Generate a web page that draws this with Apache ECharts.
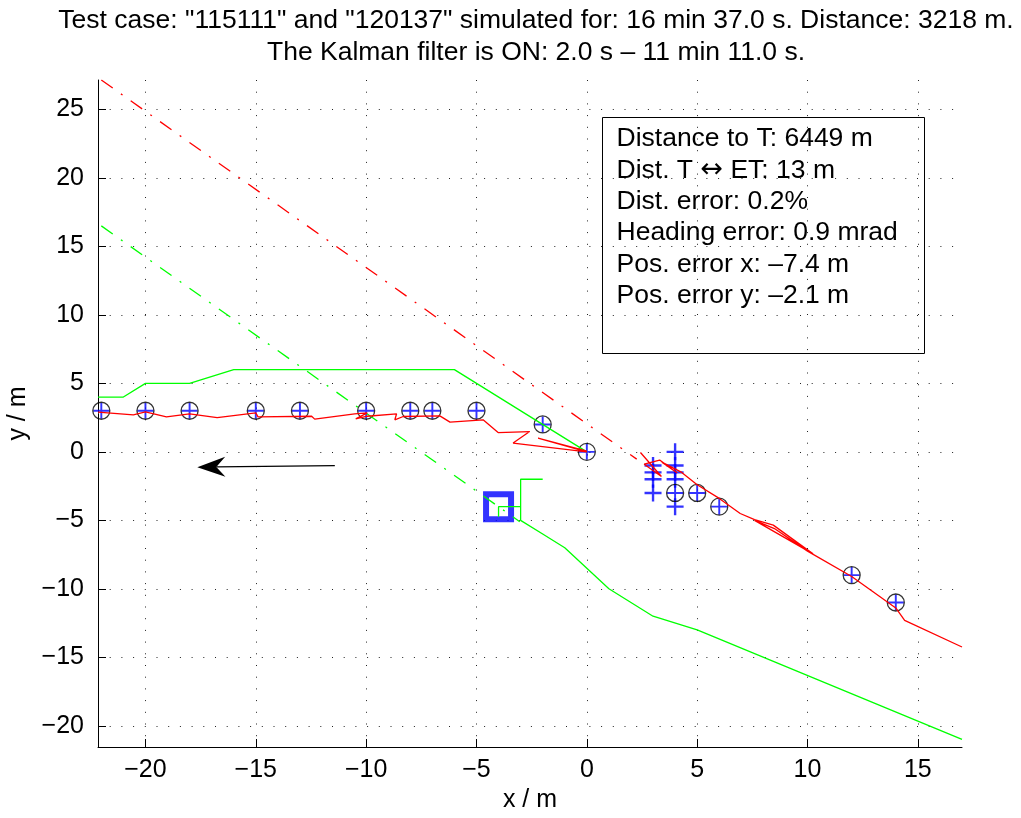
<!DOCTYPE html>
<html>
<head>
<meta charset="utf-8">
<title>Kalman track</title>
<script src="https://cdn.jsdelivr.net/npm/echarts@6/dist/echarts.min.js"></script>
<style>
html, body { margin: 0; padding: 0; background: #fff; }
#main { width: 1021px; height: 818px; }
</style>
</head>
<body>
<div id="main"></div>
<script>
// tick labels
var x_ticks = [-20, -15, -10, -5, 0, 5, 10, 15];
var y_ticks = [-20, -15, -10, -5, 0, 5, 10, 15, 20, 25];

// landmarks (circle + plus)
var landmarks = [[-22, 3], [-20, 3], [-18, 3], [-15, 3], [-13, 3], [-10, 3], [-8, 3], [-7, 3], [-5, 3],
	[-2, 2], [0, 0], [4, -3], [5, -3], [6, -4], [12, -9], [14, -11]];
// measured points (blue plus only)
var measured = [[3, -1], [3, -1.5], [3, -2], [3, -3], [4, 0], [4, -1], [4, -1.5], [4, -2], [4, -4]];

// true track (green)
var true_track_a = [[-22.15, 4], [-21, 4], [-20, 5], [-18, 5], [-16, 6], [-6, 6], [0, 0]];
var true_track_b = [[-2, -2], [-3, -2], [-3, -5], [-2, -6], [-1, -7], [1, -10], [3, -12], [5, -13], [17, -21]];
var true_track_c = [[-4, -4.73], [-4, -4], [-3, -4]];
var true_heading = [[-22, 16.5], [-3.04, -5.1]];

// estimated track (red)
var est_track_a = [[-22.15, 2.9], [-20.55, 2.7], [-20, 2.92], [-19.05, 2.56], [-18, 2.78], [-16.75, 2.5],
	[-15, 2.85], [-14.9, 2.55], [-12.47, 2.6], [-12.33, 2.39], [-10.52, 2.78], [-9.95, 2.85], [-10.47, 2.41],
	[-9.95, 2.6], [-8.62, 2.78], [-8.7, 2.34], [-8.32, 2.58], [-6.66, 2.63], [-6.2, 2.17], [-4.7, 2.34],
	[-4.02, 1.41], [-2.59, 1.48], [-3.34, 0.64], [0, 0], [-2.21, 1.0], [0, 0.05]];
var est_track_b = [[2.43, -0.05], [3.38, -1.8], [2.6, -0.9], [3.3, -0.6], [4.1, -1.55], [3.4, -0.75],
	[4.3, -1.5], [5, -2.4], [6, -3.4], [6.95, -4.5], [7.6, -4.95], [8.45, -5.35], [10.25, -7.45],
	[7.6, -5.0], [8.5, -5.6], [10, -7.25], [12, -9.1], [14, -11.4], [14.4, -12.3], [17, -14.25]];
var est_heading = [[-22, 27.15], [2.26, -0.53]];

// start position and direction arrow
var start_pos = [[-4, -4]];
var arrow_seg = [[-11.42, -1.0, -17.65, -1.12]];

var title_lines = [
	'Test case: "115111" and "120137" simulated for: 16 min 37.0 s. Distance: 3218 m.',
	'The Kalman filter is ON: 2.0 s \u2013 11 min 11.0 s.'
];
var info_lines = [
	'Distance to T: 6449 m',
	'Dist. T {ar|\u2194} ET: 13 m',
	'Dist. error: 0.2%',
	'Heading error: 0.9 mrad',
	'Pos. error x: \u20137.4 m',
	'Pos. error y: \u20132.1 m'
];

var FONT = "'Liberation Sans', Arial, Helvetica, sans-serif";
var PLUS = 'path://M44,0 L56,0 L56,44 L100,44 L100,56 L56,56 L56,100 L44,100 L44,56 L0,56 L0,44 L44,44 Z';
var PLUS_BOLD = 'path://M43,0 L57,0 L57,43 L100,43 L100,57 L57,57 L57,100 L43,100 L43,57 L0,57 L0,43 L43,43 Z';

function minus_fmt(v) {
	return String(v).replace('-', '\u2212');
}

function track(data, color, type) {
	return {
		type: 'line',
		data: data,
		symbol: 'none',
		silent: true,
		animation: false,
		lineStyle: { color: color, width: 1.3, type: type || 'solid' }
	};
}

var chart = echarts.init(document.getElementById('main'));
var option = {
	animation: false,
	backgroundColor: '#fff',
	title: {
		text: title_lines.join('\n'),
		left: 531,
		top: 0,
		textAlign: 'center',
		textStyle: { fontFamily: FONT, fontSize: 26.5, fontWeight: 'normal', color: '#000', lineHeight: 32 }
	},
	grid: { left: 98, right: 59, top: 80, bottom: 71, outerBoundsMode: 'none' },
	xAxis: {
		type: 'value',
		min: -22.15,
		max: 17,
		name: 'x / m',
		nameLocation: 'middle',
		nameGap: 41,
		nameTextStyle: { fontFamily: FONT, fontSize: 25, color: '#000' },
		axisLine: { onZero: false, lineStyle: { color: '#000', width: 1 } },
		axisTick: { inside: true, length: 8, customValues: x_ticks, lineStyle: { color: '#000' } },
		axisLabel: { customValues: x_ticks, margin: 11, fontFamily: FONT, fontSize: 25, color: '#000', formatter: minus_fmt },
		splitLine: { show: true, lineStyle: { color: '#222', width: 1, type: [1, 10.7] } }
	},
	yAxis: {
		type: 'value',
		min: -21.55,
		max: 27.15,
		name: 'y / m',
		nameLocation: 'middle',
		nameGap: 61,
		nameRotate: 90,
		nameTextStyle: { fontFamily: FONT, fontSize: 25, color: '#000' },
		axisLine: { onZero: false, lineStyle: { color: '#000', width: 1 } },
		axisTick: { inside: true, length: 8, customValues: y_ticks, lineStyle: { color: '#000' } },
		axisLabel: { customValues: y_ticks, margin: 14, fontFamily: FONT, fontSize: 25, color: '#000', formatter: minus_fmt },
		splitLine: { show: true, lineStyle: { color: '#222', width: 1, type: [1, 10.7] } }
	},
	graphic: [{
		type: 'group',
		left: 602,
		top: 117,
		children: [{
			type: 'rect',
			shape: { x: 0, y: 0, width: 322, height: 236 },
			style: { fill: '#fff', stroke: '#000', lineWidth: 1 }
		}, {
			type: 'text',
			left: 14,
			top: 6,
			style: {
				text: info_lines.join('\n'),
				font: '26.5px ' + FONT,
				fill: '#000',
				lineHeight: 31.3,
				rich: {
					ar: { fontFamily: "'DejaVu Sans'", fontSize: 27, lineHeight: 31.3, fill: '#000' }
				}
			}
		}]
	}],
	series: [
		track(est_heading, '#ff0000', [14, 10, 2, 10]),
		track(true_heading, '#00ff00', [14, 10, 2, 10]),
		track(true_track_a, '#00ff00'),
		track(true_track_b, '#00ff00'),
		track(true_track_c, '#00ff00'),
		track(est_track_a, '#ff0000'),
		track(est_track_b, '#ff0000'),
		{
			type: 'scatter',
			data: landmarks,
			symbol: PLUS,
			symbolSize: 16,
			silent: true,
			itemStyle: { color: '#0000ff' }
		},
		{
			type: 'scatter',
			data: measured,
			symbol: PLUS_BOLD,
			symbolSize: 17,
			silent: true,
			itemStyle: { color: '#0000ff' }
		},
		{
			type: 'scatter',
			data: landmarks,
			symbol: 'circle',
			symbolSize: 17,
			silent: true,
			itemStyle: { color: 'rgba(0,0,0,0)', borderColor: '#000', borderWidth: 1.3 }
		},
		{
			type: 'scatter',
			data: start_pos,
			symbol: 'rect',
			symbolSize: 25,
			silent: true,
			itemStyle: { color: 'rgba(0,0,0,0)', borderColor: '#0000ff', borderWidth: 6 }
		},
		{
			// direction arrow
			type: 'custom',
			data: arrow_seg,
			silent: true,
			renderItem: function (params, api) {
				var p0 = api.coord([api.value(0), api.value(1)]);
				var p1 = api.coord([api.value(2), api.value(3)]);
				var ang = Math.atan2(p1[1] - p0[1], p1[0] - p0[0]);
				var ux = Math.cos(ang), uy = Math.sin(ang);
				var nx = -uy, ny = ux;
				var L = 28, W = 10, N = 19;
				var notch = [p1[0] - ux * N, p1[1] - uy * N];
				return {
					type: 'group',
					children: [{
						type: 'line',
						shape: { x1: p0[0], y1: p0[1], x2: notch[0], y2: notch[1] },
						style: { stroke: '#000', lineWidth: 1.3 }
					}, {
						type: 'polygon',
						shape: { points: [p1,
							[p1[0] - ux * L + nx * W, p1[1] - uy * L + ny * W],
							notch,
							[p1[0] - ux * L - nx * W, p1[1] - uy * L - ny * W]] },
						style: { fill: '#000' }
					}]
				};
			}
		}
	]
};
chart.setOption(option);
</script>
</body>
</html>
